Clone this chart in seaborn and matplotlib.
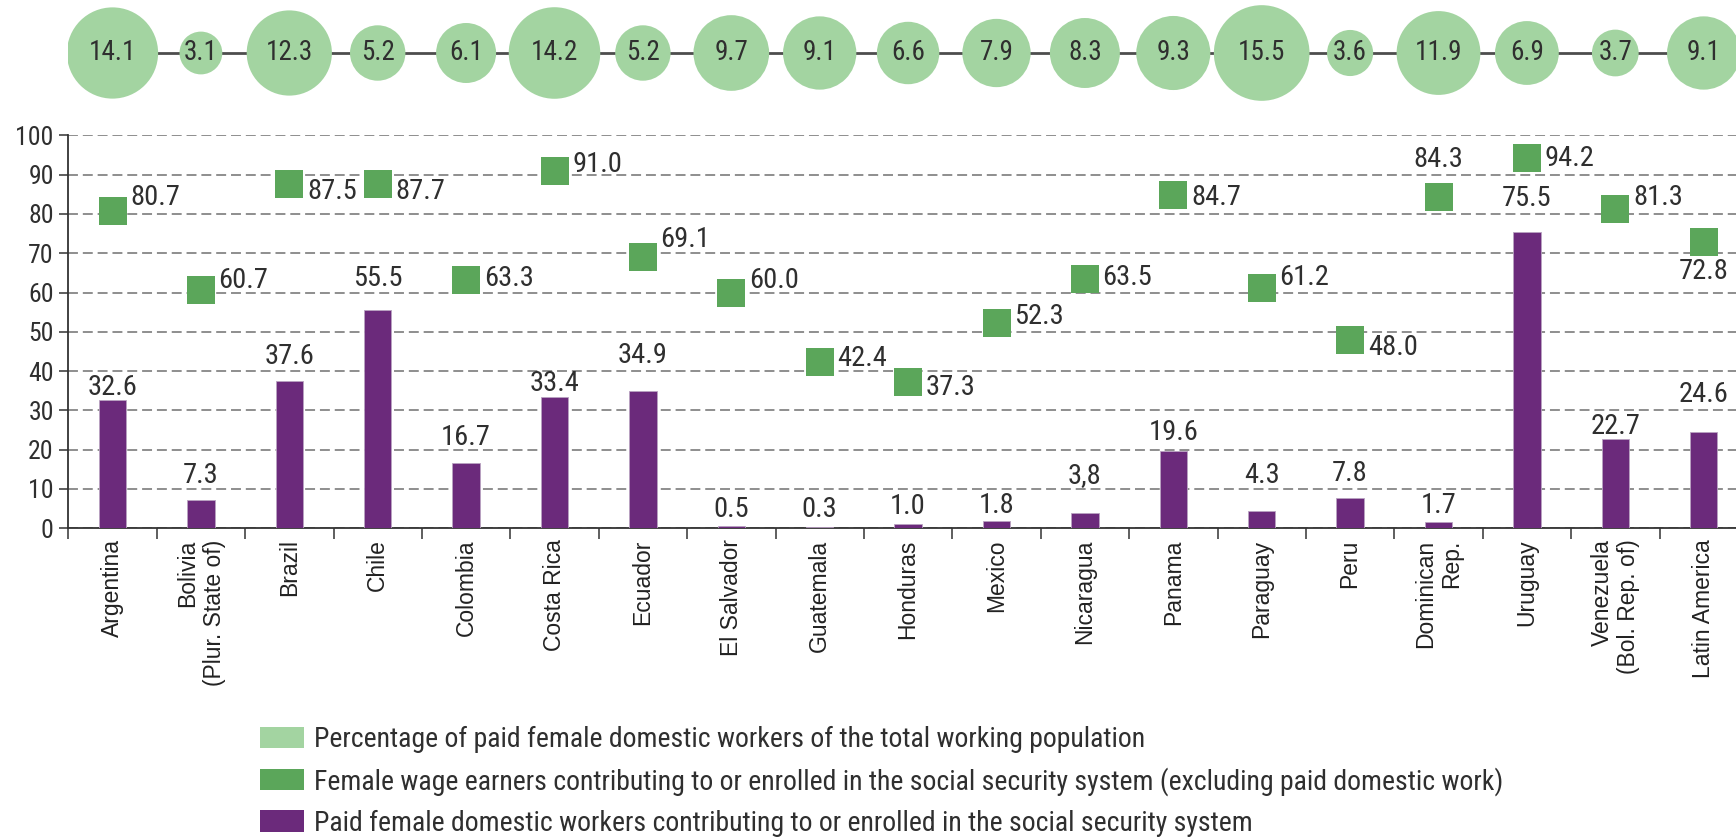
import numpy as np
import pandas as pd
import matplotlib
matplotlib.use("Agg")
import matplotlib.pyplot as plt
from matplotlib.patches import Patch
from matplotlib.ticker import FixedLocator
import seaborn as sns

# ---- data -------------------------------------------------------------
countries = [
    "Argentina", "Bolivia\n(Plur. State of)", "Brazil", "Chile", "Colombia",
    "Costa Rica", "Ecuador", "El Salvador", "Guatemala", "Honduras", "Mexico",
    "Nicaragua", "Panama", "Paraguay", "Peru", "Dominican\nRep.", "Uruguay",
    "Venezuela\n(Bol. Rep. of)", "Latin America",
]
share_of_workforce = [14.1, 3.1, 12.3, 5.2, 6.1, 14.2, 5.2, 9.7, 9.1, 6.6,
                      7.9, 8.3, 9.3, 15.5, 3.6, 11.9, 6.9, 3.7, 9.1]
wage_earners_insured = [80.7, 60.7, 87.5, 87.7, 63.3, 91.0, 69.1, 60.0, 42.4,
                        37.3, 52.3, 63.5, 84.7, 61.2, 48.0, 84.3, 94.2, 81.3, 72.8]
domestic_insured = [32.6, 7.3, 37.6, 55.5, 16.7, 33.4, 34.9, 0.5, 0.3, 1.0,
                    1.8, 3.8, 19.6, 4.3, 7.8, 1.7, 75.5, 22.7, 24.6]

legend_labels = [
    "Percentage of paid female domestic workers of the total working population",
    "Female wage earners contributing to or enrolled in the social security system (excluding paid domestic work)",
    "Paid female domestic workers contributing to or enrolled in the social security system",
]

# ---- label placement (offsets from the marks) ------------------------
# square labels: (dx in category units, dy in percentage points, alignment)
wage_label_dx = [0.2] * 15 + [0.0, 0.2, 0.2, 0.0]
wage_label_dy = [3.4, 2.4, -1.9, -2.1, 0.2, 1.6, 4.5, 3.1, 0.7, -1.5, 1.5,
                 0.4, -0.4, 2.5, -1.9, 9.6, 0.0, 3.0, -7.5]
wage_label_ha = ["left"] * 15 + ["center", "left", "left", "center"]
# bar labels: height above the bar top
domestic_label_dy = [3.3, 6.1, 6.1, 8.0, 6.5, 3.4, 9.1, 4.4, 4.6, 4.5, 4.1,
                     9.6, 4.8, 9.2, 6.2, 4.1, 8.3, 3.1, 9.5]

# ---- style ------------------------------------------------------------
LIGHT_GREEN = "#A3D4A1"
GREEN = "#5BA65A"
PURPLE = "#6B2A7B"
TEXT = "#2f2f2f"
GRID = "#707070"
VALUE_SIZE = 20.5

sns.set_theme(style="white")
plt.rcParams["font.family"] = ["Roboto Condensed", "Liberation Sans Narrow",
                               "DejaVu Sans"]
plt.rcParams["font.stretch"] = "condensed"
plt.rcParams["text.color"] = TEXT

W, H = 1736, 839
fig = plt.figure(figsize=(W / 100, H / 100), dpi=100)

n = len(countries)
x_right = -0.5 + (W - 68.3) / 88.4

df = pd.DataFrame({
    "country": countries,
    "share": share_of_workforce,
    "wage": wage_earners_insured,
    "domestic": domestic_insured,
    "row": np.zeros(n),
})

# ---- main panel -------------------------------------------------------
ax = fig.add_axes([68.3 / W, (H - 528.3) / H, 1 - 68.3 / W, (528.3 - 135.3) / H])
ax.set_axisbelow(True)

sns.barplot(data=df, x="country", y="domestic", color=PURPLE, width=0.31,
            saturation=1, edgecolor="#b9a3c1", linewidth=0.6, ax=ax, zorder=3)
sns.scatterplot(data=df, x="country", y="wage", marker="s", s=380,
                color=GREEN, linewidth=0, ax=ax, zorder=4)

bar_text = [f"{v:.1f}" for v in domestic_insured]
bar_text[countries.index("Nicaragua")] = "3,8"
for i, (v, dy, t) in enumerate(zip(domestic_insured, domestic_label_dy, bar_text)):
    ax.text(i, v + dy, t, ha="center", va="center", fontsize=VALUE_SIZE,
            color=TEXT, zorder=5)

for i, (v, dx, dy, ha) in enumerate(zip(wage_earners_insured, wage_label_dx,
                                        wage_label_dy, wage_label_ha)):
    ax.text(i + dx, v + dy, f"{v:.1f}", ha=ha, va="center", fontsize=VALUE_SIZE,
            color=TEXT, zorder=5)

ax.set_ylim(0, 100)
ax.set_xlim(-0.5, x_right)
ax.set_yticks(np.arange(0, 101, 10))
ax.yaxis.grid(True, color=GRID, linestyle=(0, (6.5, 3.2)), linewidth=1.1)
ax.xaxis.grid(False)
ax.set_xlabel("")
ax.set_ylabel("")

for side in ("top", "right"):
    ax.spines[side].set_visible(False)
for side in ("left", "bottom"):
    ax.spines[side].set_color("#333333")
    ax.spines[side].set_linewidth(1.3)

ax.tick_params(axis="y", which="major", direction="out", length=6.5, width=1.1,
               color="#333333", pad=4, labelsize=18.5, labelcolor=TEXT, left=True)
ax.set_xticks(range(n))
ax.set_xticklabels(countries, rotation=90, ha="center", va="top",
                   multialignment="right", fontsize=16.5, fontstretch="normal",
                   family=["Liberation Sans", "DejaVu Sans"], color="#222222")
ax.tick_params(axis="x", which="major", length=0, pad=8)
ax.xaxis.set_minor_locator(FixedLocator(np.arange(-0.5, n, 1.0)))
ax.tick_params(axis="x", which="minor", direction="out", length=8, width=1.1,
               color="#333333", bottom=True)

# ---- bubble row -------------------------------------------------------
ax_top = fig.add_axes([68.3 / W, (H - 106) / H, 1 - 68.3 / W, 106 / H])
ax_top.plot(df["country"], df["row"], color="#4d4d4d", linewidth=2, zorder=1)
sns.scatterplot(data=df, x="country", y="row", size="share",
                sizes=(0, 306 * 15.5), size_norm=(0, 15.5), color=LIGHT_GREEN,
                linewidth=0, legend=False, ax=ax_top, zorder=2, alpha=1)
for i, v in enumerate(share_of_workforce):
    ax_top.text(i, 0, f"{v:.1f}", ha="center", va="center", fontsize=19.5,
                color=TEXT, zorder=3)
ax_top.set_xlim(-0.5, x_right)
ax_top.set_ylim(-1, 1)
ax_top.axis("off")

# ---- legend -----------------------------------------------------------
handles = [Patch(facecolor=c, edgecolor="none") for c in (LIGHT_GREEN, GREEN, PURPLE)]
fig.legend(handles, legend_labels, loc="upper left",
           bbox_to_anchor=(260 / W, 1 - 726 / H), frameon=False, fontsize=20,
           handlelength=1.6, handleheight=0.8, handletextpad=0.33,
           labelspacing=0.5, borderpad=0, borderaxespad=0)

fig.savefig("out.png", dpi=100)
